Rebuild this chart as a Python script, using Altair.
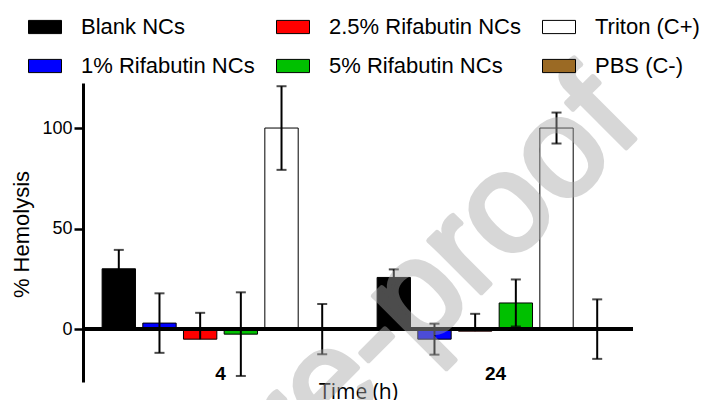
import altair as alt
import pandas as pd

# Hemolysis of red blood cells after incubation with the nanocrystal formulations
times = ["4", "24"]
series = ["Blank NCs", "1% Rifabutin NCs", "2.5% Rifabutin NCs",
          "5% Rifabutin NCs", "Triton (C+)", "PBS (C-)"]
colors = ["#000000", "#0000ff", "#ff0000", "#00c000", "#ffffff", "#9b6a24"]

# mean % hemolysis and error bar lengths (upper / lower) per series
mean_4h = [30.0, 3.0, -5.0, -2.5, 100.0, 0.0]
err_up_4h = [9.4, 14.8, 13.1, 20.8, 20.8, 12.5]
err_dn_4h = [9.4, 14.8, 0.0, 20.8, 20.8, 12.5]
mean_24h = [25.7, -5.0, -1.0, 13.0, 100.0, 0.0]
err_up_24h = [4.0, 7.7, 8.6, 11.7, 7.7, 14.8]
err_dn_24h = [4.0, 7.7, 0.0, 11.7, 7.7, 14.8]

rows, caps = [], []
for t, means, ups, dns in [("4", mean_4h, err_up_4h, err_dn_4h),
                           ("24", mean_24h, err_up_24h, err_dn_24h)]:
    for s, m, u, d in zip(series, means, ups, dns):
        rows.append({"time": t, "series": s, "mean": m, "lo": m - d, "hi": m + u})
        caps.append({"time": t, "series": s, "cap": m + u})
        if d > 0:
            caps.append({"time": t, "series": s, "cap": m - d})
df = pd.DataFrame(rows)
df_caps = pd.DataFrame(caps)

fill_scale = alt.Scale(domain=series, range=colors)
x_enc = alt.X("time:N", sort=times, scale=alt.Scale(domain=times, paddingInner=0, paddingOuter=0),
              axis=alt.Axis(domain=False, ticks=False, tickSize=0, labelAngle=0,
                            labelFont="Liberation Sans", labelFontSize=19, labelFontWeight="bold",
                            labelColor="black", labelBaseline="middle", labelPadding=-9,
                            title="Time (h)", titleFont="Open Sans", titleFontSize=21,
                            titleFontWeight="normal", titleColor="black",
                            titleBaseline="middle", titleY=10))
xo_enc = alt.XOffset("series:N", sort=series,
                     scale=alt.Scale(domain=series, paddingInner=0.18, paddingOuter=0.47))
y_scale = alt.Scale(domain=[-26.3, 122.4], nice=False, zero=False)
y_axis = alt.Axis(values=[0, 50, 100], grid=False, domainColor="black", domainWidth=3,
                  tickColor="black", tickWidth=2.5, tickSize=9, labelPadding=2,
                  labelFont="Liberation Sans", labelFontSize=18, labelColor="black",
                  title="% Hemolysis", titleFont="Liberation Sans", titleFontSize=22,
                  titleFontWeight="normal", titleColor="black",
                  titleBaseline="middle", titleX=-62, titleY=151)

bars = alt.Chart(df).mark_bar(stroke="black", strokeWidth=1).encode(
    x=x_enc,
    xOffset=xo_enc,
    y=alt.Y("mean:Q", scale=y_scale, axis=y_axis),
    fill=alt.Fill("series:N", sort=series, scale=fill_scale,
                  legend=alt.Legend(orient="none", legendX=-55, legendY=-73, columns=3,
                                    title=None, labelFont="Liberation Sans", labelFontSize=22,
                                    labelColor="black", labelLimit=300, labelOffset=19,
                                    symbolType="M-1,-0.4H1V0.4H-1Z", symbolSize=1089,
                                    symbolStrokeColor="black", symbolStrokeWidth=1,
                                    symbolOpacity=1, columnPadding=19, rowPadding=11,
                                    gridAlign="each")),
)

err = alt.Chart(df).mark_rule(color="black", strokeWidth=2).encode(
    x=alt.X("time:N", sort=times),
    xOffset=alt.XOffset("series:N", sort=series),
    y="lo:Q",
    y2="hi:Q",
)

cap_marks = alt.Chart(df_caps).mark_tick(color="black", thickness=2, size=10).encode(
    x=alt.X("time:N", sort=times),
    xOffset=alt.XOffset("series:N", sort=series),
    y="cap:Q",
)

zero_line = alt.Chart(df).mark_rule(color="black", strokeWidth=3).encode(y=alt.datum(0))

# translucent diagonal watermark over the plot
watermark = alt.Chart(pd.DataFrame({"t": ["Journal Pre-proof"]})).mark_text(
    angle=315, fontSize=140, font="Liberation Sans",
    align="right", baseline="alphabetic", color="#a8a8a8",
    stroke="#a8a8a8", strokeWidth=5, strokeJoin="round",
).encode(x=alt.value(562), y=alt.value(46), text="t:N", opacity=alt.value(0.45))

chart = alt.layer(bars, err, cap_marks, zero_line, watermark).properties(
    width=550, height=299,
    autosize=alt.AutoSizeParams(type="none"),
    padding={"left": 83, "top": 83, "right": 70, "bottom": 18},
).configure_view(stroke=None)

chart.save("out.html", embed_options={"renderer": "svg", "actions": False})
